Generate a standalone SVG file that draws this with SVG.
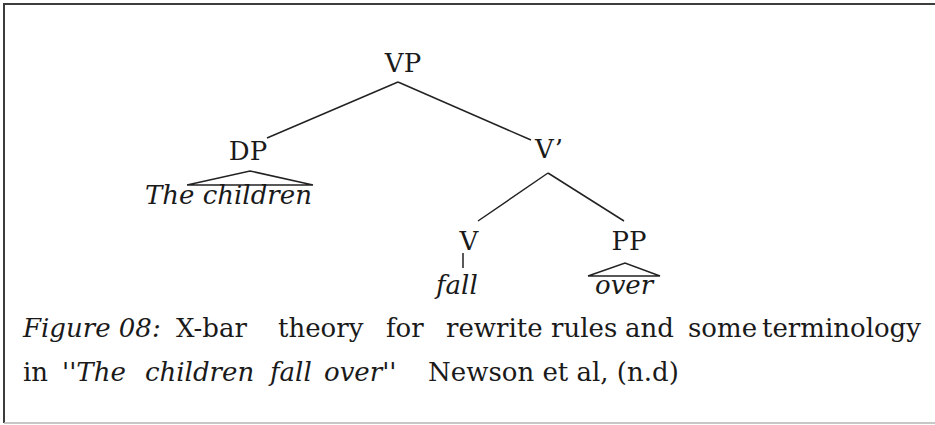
<svg xmlns="http://www.w3.org/2000/svg" width="935" height="425" viewBox="0 0 935 425">
<style>
.lbl{font-family:"DejaVu Serif",serif;font-size:26px;fill:#1a1a1a}
.word{font-family:"DejaVu Serif",serif;font-size:26px;font-style:italic;fill:#1a1a1a}
.cap{font-family:"DejaVu Serif",serif;font-size:26px;fill:#1a1a1a}
.capi{font-family:"DejaVu Serif",serif;font-size:26px;font-style:italic;fill:#1a1a1a}
.edge{stroke:#222;stroke-width:1.5;fill:none}
</style>
<rect x="0" y="0" width="935" height="425" fill="#ffffff"/>
<g id="frame">
<line x1="3" y1="4" x2="935" y2="4" stroke="#3c3c3c" stroke-width="2"/>
<line x1="4" y1="3" x2="4" y2="423" stroke="#3c3c3c" stroke-width="2"/>
<line x1="4" y1="423" x2="935" y2="423" stroke="#b5b5b5" stroke-width="1.5"/>
</g>
<g id="connectors">
<line class="edge" x1="398" y1="82" x2="267" y2="138"/>
<line class="edge" x1="398" y1="82" x2="531" y2="140"/>
<line class="edge" x1="548" y1="173" x2="478" y2="221"/>
<line class="edge" x1="548" y1="173" x2="624" y2="221"/>
<line class="edge" x1="463" y1="253" x2="463" y2="268"/>
</g>
<g id="node-VP"><text class="lbl" x="403" y="72" text-anchor="middle">VP</text></g>
<g id="node-DP"><text class="lbl" x="248" y="160" text-anchor="middle">DP</text>
<polyline class="edge" points="187,185 250,171 313,185 187,185"/></g>
<g id="node-the-children"><text class="word" x="145" y="204">The children</text></g>
<g id="node-Vbar"><text class="lbl" x="535" y="158">V’</text></g>
<g id="node-V"><text class="lbl" x="469" y="250" text-anchor="middle">V</text></g>
<g id="node-fall"><text class="word" x="436" y="294" font-size="27">fall</text></g>
<g id="node-PP"><text class="lbl" x="629" y="250" text-anchor="middle">PP</text>
<polyline class="edge" points="588,276 625,263 660,276 588,276"/></g>
<g id="node-over"><text class="word" x="595" y="294">over</text></g>
<g id="caption">
<text class="capi" x="23" y="337" font-size="27">Figure 08:</text>
<text class="cap" x="176" y="337">X-bar</text>
<text class="cap" x="278" y="337">theory</text>
<text class="cap" x="386" y="337">for</text>
<text class="cap" x="446" y="337">rewrite</text>
<text class="cap" x="551" y="337">rules</text>
<text class="cap" x="625" y="337">and</text>
<text class="cap" x="688" y="337">some</text>
<text class="cap" x="762" y="337">terminology</text>
<text class="cap" x="23" y="381">in</text>
<text class="capi" x="62" y="381">''The</text>
<text class="capi" x="145" y="381">children</text>
<text class="capi" x="270" y="381">fall</text>
<text class="capi" x="324" y="381">over''</text>
<text class="cap" x="428" y="381">Newson et al, (n.d)</text>
</g>
</svg>
